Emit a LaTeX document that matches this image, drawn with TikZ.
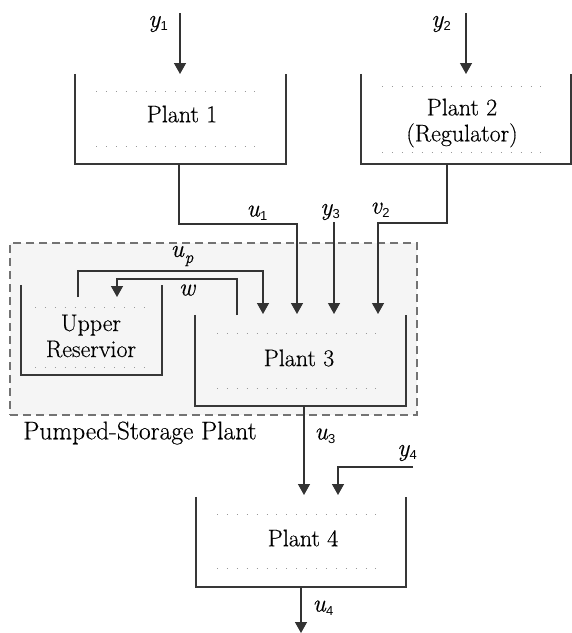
\documentclass[tikz,border=0pt]{standalone}
\usepackage{fontspec}
\newfontfamily\timesfont{Latin Modern Roman}[FakeBold=0.4]
\newfontfamily\subsans{Liberation Sans}
\usetikzlibrary{arrows.meta}
\newcommand\lbl[2]{{\timesfont\itshape #1}\kern0.5pt\raisebox{-4pt}{\subsans\fontsize{13}{13}\selectfont #2}}
\newcommand\lblp[2]{{\timesfont\itshape #1}\kern1pt\raisebox{-6pt}{\timesfont\itshape\fontsize{17}{17}\selectfont #2}}
\begin{document}
\begin{tikzpicture}[x=1pt,y=-1pt,
  wire/.style={line width=1.3pt, draw=black!80},
  flow/.style={wire, -{Triangle[width=12pt,length=11pt]}},
  tankbox/.style={draw=none, inner sep=0pt, minimum width=#1},
  tankline/.style={line width=1.5pt, draw=black!78},
  dots/.style={draw=black!40, line width=0.9pt, dash pattern=on 0.9pt off 9pt},
  txt/.style={font=\timesfont\fontsize{24}{26}\selectfont, inner sep=0pt, align=center, text=black},
  lab/.style={font=\timesfont\fontsize{25}{25}\selectfont, inner sep=0pt, text=black},
  group/.style={draw=black!55, line width=1.4pt, dash pattern=on 8pt off 5pt, fill=black!4}
]
\useasboundingbox (0,0) rectangle (572,633);

% pumped-storage group
\node[group, minimum width=407pt, minimum height=172pt, inner sep=0pt] (grp) at (213.5,329) {};
\node[txt, font=\timesfont\fontsize{25.5}{26}\selectfont] (grplab) at (140,433) {Pumped-Storage Plant};

% tanks
\node[tankbox=211pt, minimum height=90pt] (p1) at (180.5,119) {};
\node[tankbox=210pt, minimum height=90pt] (p2) at (466,119) {};
\node[tankbox=141pt, minimum height=90pt] (ur) at (91.5,330) {};
\node[tankbox=211pt, minimum height=91pt] (p3) at (300.5,360.5) {};
\node[tankbox=210pt, minimum height=90pt] (p4) at (301,542) {};
\foreach \n in {p1,p2,ur,p3,p4}{
  \draw[tankline] (\n.north west) |- (\n.south east) -- (\n.north east);
}

% dotted level lines
\draw[dots] (96,91) -- (258,91);
\draw[dots] (96,146) -- (258,146);
\draw[dots] (382,86) -- (543,86);
\draw[dots] (382,152) -- (543,152);
\draw[dots] (35,307) -- (147,307);
\draw[dots] (35,367) -- (147,367);
\draw[dots] (217,333) -- (378,333);
\draw[dots] (217,388) -- (378,388);
\draw[dots] (217,514) -- (378,514);
\draw[dots] (217,568) -- (378,568);

% texts
\node[txt] (t1) at (182,114) {Plant 1};
\node[txt] (t2) at (462,123) {Plant 2\\(Regulator)};
\node[txt] (tur) at (91,336) {Upper\\Reservior};
\node[txt] (t3) at (299,358) {Plant 3};
\node[txt] (t4) at (303,538) {Plant 4};

% coordinates
\coordinate (y1s) at (180,13);   \coordinate (y1e) at (180,74);
\coordinate (y2s) at (466,13);   \coordinate (y2e) at (466,74);
\coordinate (u1s) at (179,164);  \coordinate (u1m) at (297,224); \coordinate (u1e) at (297,314);
\coordinate (y3s) at (334,222);  \coordinate (y3e) at (334,314);
\coordinate (v2s) at (447,164);  \coordinate (v2m) at (378,223); \coordinate (v2e) at (378,314);
\coordinate (ups) at (78,297);   \coordinate (upm) at (263,271); \coordinate (upe) at (263,314);
\coordinate (ws) at (237,315);   \coordinate (wm) at (117,279);  \coordinate (we) at (117,297);
\coordinate (u3s) at (304,406);  \coordinate (u3e) at (304,495);
\coordinate (y4s) at (413,467);  \coordinate (y4e) at (338,495);
\coordinate (u4s) at (301,587);  \coordinate (u4e) at (301,633);

% connectors
\draw[flow] (y1s) -- (y1e);
\draw[flow] (y2s) -- (y2e);
\draw[flow] (u1s) |- (u1m) -- (u1e);
\draw[flow] (y3s) -- (y3e);
\draw[flow] (v2s) |- (v2m) -- (v2e);
\draw[flow] (ups) |- (upm) -- (upe);
\draw[flow] (ws) |- (wm) -- (we);
\draw[flow] (u3s) -- (u3e);
\draw[flow] (y4s) -| (y4e);
\draw[flow] (u4s) -- (u4e);

% labels
\node[lab] (ly1) at (158,24) {\lbl{y}{1}};
\node[lab] (ly2) at (441,24) {\lbl{y}{2}};
\node[lab] (lu1) at (257,213) {\lbl{u}{1}};
\node[lab] (ly3) at (330,212) {\lbl{y}{3}};
\node[lab] (lv2) at (380,210) {\lbl{v}{2}};
\node[lab] (lup) at (182,256) {\lblp{u}{p}};
\node[lab] (lw) at (187,290) {{\timesfont\itshape w}};
\node[lab] (lu3) at (325,436) {\lbl{u}{3}};
\node[lab] (ly4) at (407,453) {\lbl{y}{4}};
\node[lab] (lu4) at (323,608) {\lbl{u}{4}};
\end{tikzpicture}
\end{document}
